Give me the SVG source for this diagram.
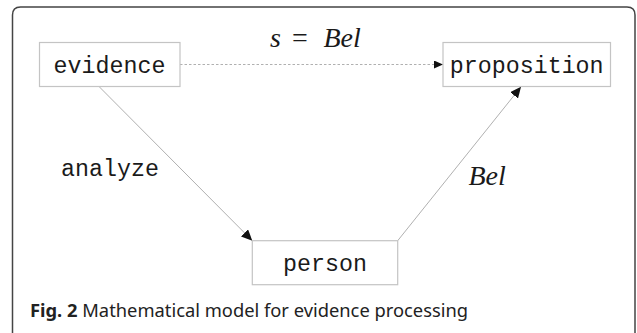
<svg xmlns="http://www.w3.org/2000/svg" width="637" height="333" viewBox="0 0 637 333">
<style>
.box{fill:#fff;stroke:#c4c4c4;stroke-width:1.2}
.lbl{font-family:"Liberation Mono",monospace;font-size:23.3px;fill:#1a1a1a}
.math{font-family:"Liberation Serif",serif;font-style:italic;font-size:28px;fill:#1a1a1a}
.edge{stroke:#b0b0b0;stroke-width:1;fill:none}
.cap{font-family:"Noto Sans","Open Sans",sans-serif;font-size:17.5px;fill:#222}
</style>
<defs>
<marker id="ah" markerUnits="userSpaceOnUse" markerWidth="12" markerHeight="10" refX="11" refY="5" orient="auto"><path d="M0,0 L11,5 L0,10 z" fill="#111"/></marker>
<marker id="ahs" markerUnits="userSpaceOnUse" markerWidth="9" markerHeight="8" refX="9" refY="4" orient="auto"><path d="M0,0 L9,4 L0,8 z" fill="#111"/></marker>
</defs>
<rect width="637" height="333" fill="#fff"/>
<path d="M12.5,345 V15 Q12.5,7 20.5,7 H627 Q635,7 635,15 V345" fill="none" stroke="#444" stroke-width="1.5"/>
<g id="connectors">
<line class="edge" x1="180" y1="64.5" x2="443" y2="64.5" stroke-dasharray="2.5,2" marker-end="url(#ahs)"/>
<line class="edge" x1="99" y1="86.5" x2="252.3" y2="240.7" marker-end="url(#ah)"/>
<line class="edge" x1="397.7" y1="240.7" x2="521" y2="86.8" marker-end="url(#ah)"/>
<text class="math" x="270" y="47.3">s</text>
<text x="292" y="47.3" font-family="Liberation Serif,serif" font-size="28" fill="#1a1a1a">=</text>
<text class="math" x="323.5" y="47.3">Bel</text>
<text class="lbl" x="61" y="176">analyze</text>
<text class="math" x="468.5" y="185">Bel</text>
</g>
<g id="evidence"><rect class="box" x="39.5" y="42.5" width="140.5" height="44"/><text class="lbl" x="109.5" y="72.5" text-anchor="middle">evidence</text></g>
<g id="proposition"><rect class="box" x="443" y="42.5" width="167.5" height="44"/><text class="lbl" x="526.7" y="72.5" text-anchor="middle">proposition</text></g>
<g id="person"><rect class="box" x="252.3" y="240.7" width="145.4" height="44"/><text class="lbl" x="325" y="270.5" text-anchor="middle">person</text></g>
<text class="cap" x="30" y="316.7" textLength="438" lengthAdjust="spacingAndGlyphs"><tspan font-weight="bold">Fig. 2</tspan> Mathematical model for evidence processing</text>
</svg>
